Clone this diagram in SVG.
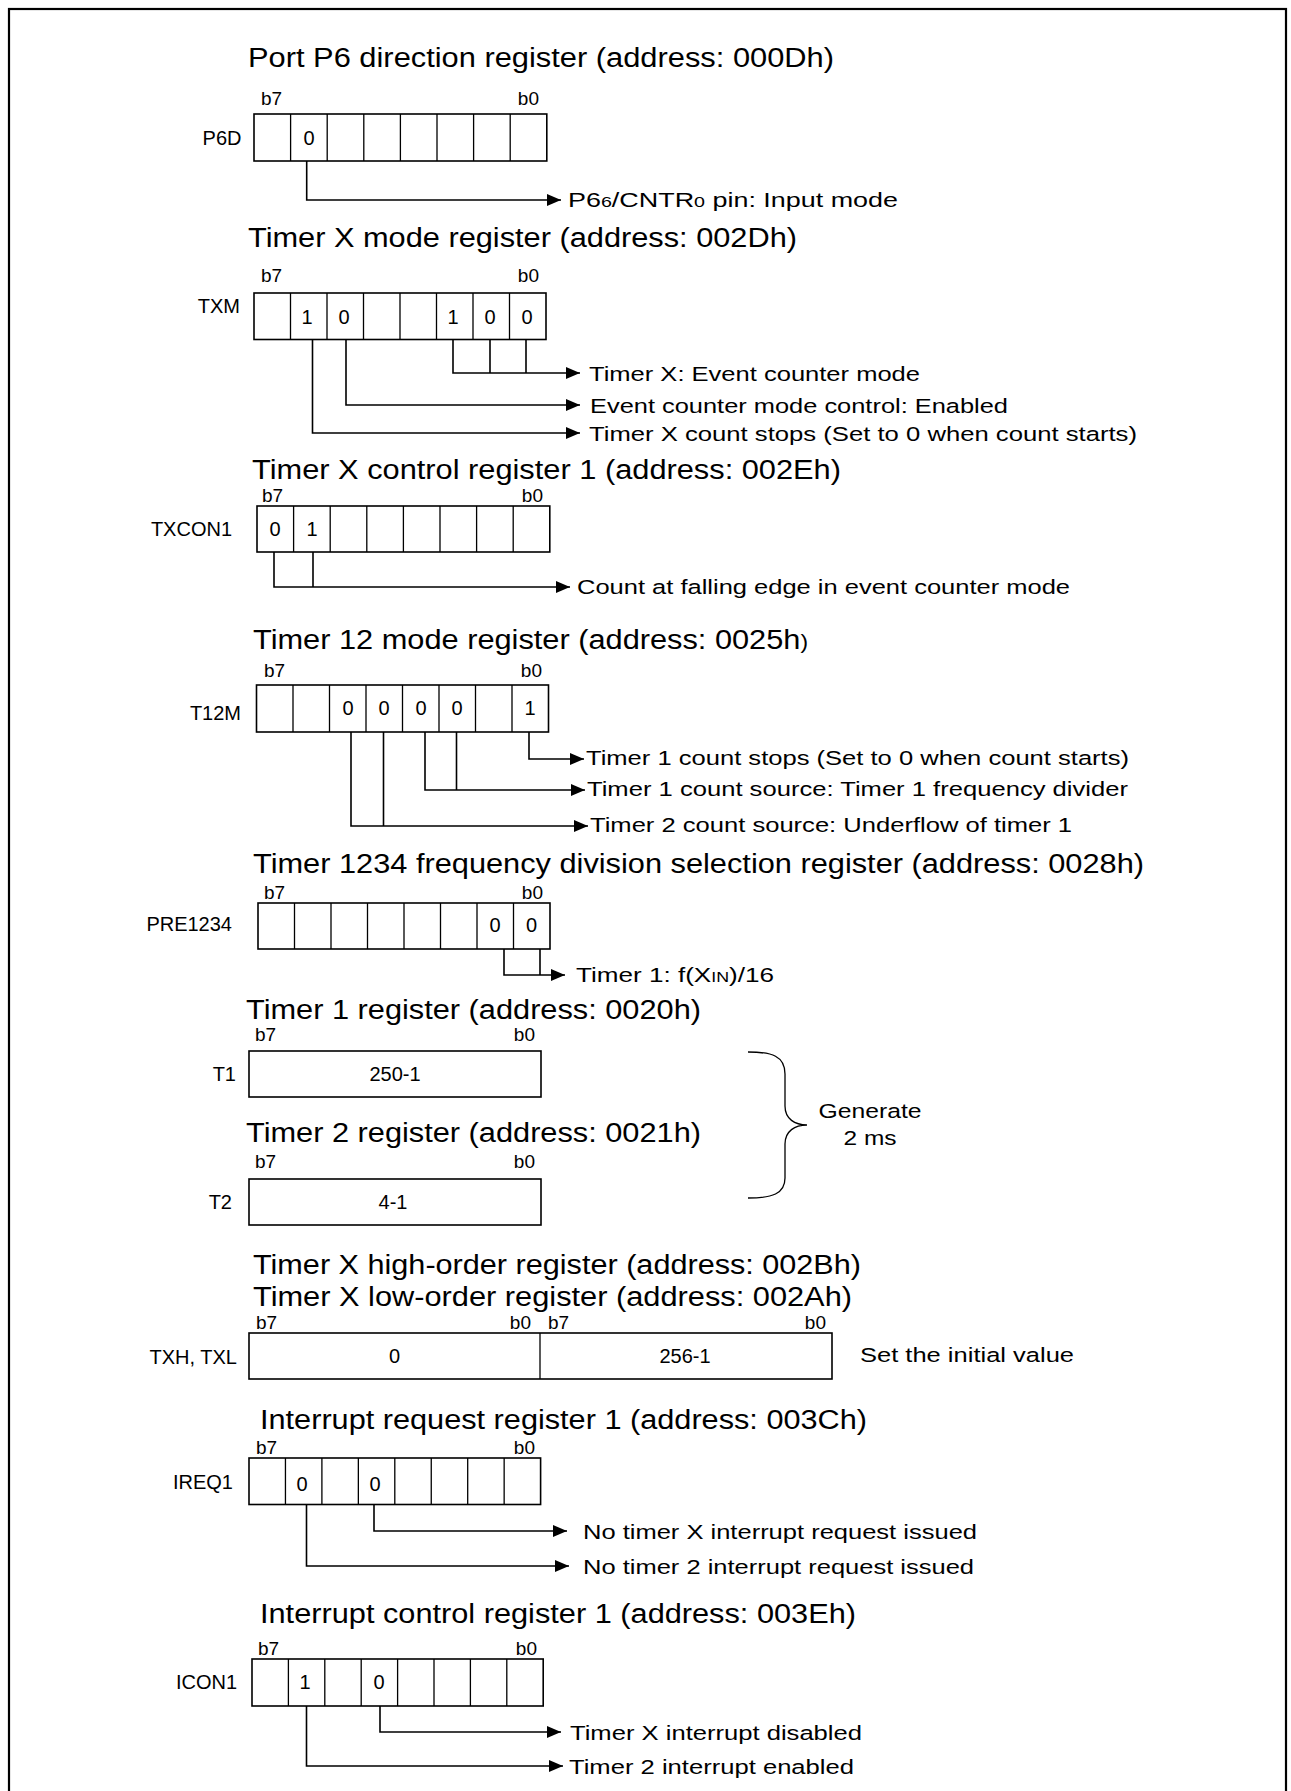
<svg xmlns="http://www.w3.org/2000/svg" width="1291" height="1791" viewBox="0 0 1291 1791">
<style>
text{font-family:"Liberation Sans",Arial,sans-serif;fill:#000}
.ti{font-size:27px}
.de{font-size:20.5px}
.lb{font-size:20px;text-anchor:end}
.bt{font-size:19px}
.be{font-size:19px;text-anchor:end}
.v{font-size:20px;text-anchor:middle}
.box{fill:#fff;stroke:#000;stroke-width:1.6}
.dv{fill:none;stroke:#000;stroke-width:1.3}
.con{fill:none;stroke:#000;stroke-width:1.6}
.br{fill:none;stroke:#000;stroke-width:1.3}
</style>
<defs>
<marker id="ar" markerUnits="userSpaceOnUse" markerWidth="15" markerHeight="13" refX="14" refY="6" orient="auto">
<path d="M0,0 L14,6 L0,12 z" fill="#000"/>
</marker>
</defs>
<rect x="0" y="0" width="1291" height="1791" fill="#fff"/>
<rect x="9" y="9" width="1277" height="1800" fill="none" stroke="#000" stroke-width="2.2"/>

<g id="p6d">
<text class="ti" x="248" y="67" textLength="586" lengthAdjust="spacingAndGlyphs">Port P6 direction register (address: 000Dh)</text>
<text class="bt" x="261" y="105">b7</text><text class="be" x="539" y="105">b0</text>
<text class="lb" x="241.5" y="145">P6D</text>
<rect class="box" x="254" y="114" width="292.8" height="47"/>
<path class="dv" d="M290.6,114V161M327.2,114V161M363.8,114V161M400.4,114V161M437,114V161M473.6,114V161M510.2,114V161"/>
<text class="v" x="309" y="145">0</text>
<text class="de" x="568" y="207" textLength="330" lengthAdjust="spacingAndGlyphs">P6<tspan font-size="15">6</tspan>/CNTR<tspan font-size="15">0</tspan> pin: Input mode</text>
</g>

<g id="txm">
<text class="ti" x="248" y="247" textLength="549" lengthAdjust="spacingAndGlyphs">Timer X mode register (address: 002Dh)</text>
<text class="bt" x="261" y="282">b7</text><text class="be" x="539" y="282">b0</text>
<text class="lb" x="240" y="313">TXM</text>
<rect class="box" x="254" y="293" width="292" height="46.5"/>
<path class="dv" d="M290.5,293V339.5M327,293V339.5M363.5,293V339.5M400,293V339.5M436.5,293V339.5M473,293V339.5M509.5,293V339.5"/>
<text class="v" x="307" y="324">1</text><text class="v" x="344" y="324">0</text><text class="v" x="453" y="324">1</text><text class="v" x="490" y="324">0</text><text class="v" x="527" y="324">0</text>
<text class="de" x="589" y="381" textLength="331" lengthAdjust="spacingAndGlyphs">Timer X: Event counter mode</text>
<text class="de" x="590" y="413" textLength="418" lengthAdjust="spacingAndGlyphs">Event counter mode control: Enabled</text>
<text class="de" x="589" y="441" textLength="548" lengthAdjust="spacingAndGlyphs">Timer X count stops (Set to 0 when count starts)</text>
</g>

<g id="txcon1">
<text class="ti" x="252" y="479" textLength="589" lengthAdjust="spacingAndGlyphs">Timer X control register 1 (address: 002Eh)</text>
<text class="bt" x="262" y="502">b7</text><text class="be" x="543" y="502">b0</text>
<text class="lb" x="232" y="536">TXCON1</text>
<rect class="box" x="257" y="506" width="292.8" height="46"/>
<path class="dv" d="M293.6,506V552M330.2,506V552M366.8,506V552M403.4,506V552M440,506V552M476.6,506V552M513.2,506V552"/>
<text class="v" x="275" y="536">0</text><text class="v" x="312" y="536">1</text>
<text class="de" x="577" y="594" textLength="493" lengthAdjust="spacingAndGlyphs">Count at falling edge in event counter mode</text>
</g>

<g id="t12m">
<text class="ti" x="253" y="649" textLength="555" lengthAdjust="spacingAndGlyphs">Timer 12 mode register (address: 0025h<tspan font-size="20">)</tspan></text>
<text class="bt" x="264" y="677">b7</text><text class="be" x="542" y="677">b0</text>
<text class="lb" x="241" y="720">T12M</text>
<rect class="box" x="256.5" y="685" width="292" height="47"/>
<path class="dv" d="M293,685V732M329.5,685V732M366,685V732M402.5,685V732M439,685V732M475.5,685V732M512,685V732"/>
<text class="v" x="348" y="715">0</text><text class="v" x="384" y="715">0</text><text class="v" x="421" y="715">0</text><text class="v" x="457" y="715">0</text><text class="v" x="530" y="715">1</text>
<text class="de" x="586" y="765" textLength="543" lengthAdjust="spacingAndGlyphs">Timer 1 count stops (Set to 0 when count starts)</text>
<text class="de" x="587" y="796" textLength="541" lengthAdjust="spacingAndGlyphs">Timer 1 count source: Timer 1 frequency divider</text>
<text class="de" x="590" y="832" textLength="482" lengthAdjust="spacingAndGlyphs">Timer 2 count source: Underflow of timer 1</text>
</g>

<g id="pre1234">
<text class="ti" x="253" y="873" textLength="891" lengthAdjust="spacingAndGlyphs">Timer 1234 frequency division selection register (address: 0028h)</text>
<text class="bt" x="264" y="899">b7</text><text class="be" x="543" y="899">b0</text>
<text class="lb" x="232" y="931">PRE1234</text>
<rect class="box" x="258" y="903" width="292" height="46"/>
<path class="dv" d="M294.5,903V949M331,903V949M367.5,903V949M404,903V949M440.5,903V949M477,903V949M513.5,903V949"/>
<text class="v" x="495" y="932">0</text><text class="v" x="531.5" y="932">0</text>
<text class="de" x="576" y="982" textLength="198" lengthAdjust="spacingAndGlyphs">Timer 1: f(X<tspan font-size="14">IN</tspan>)/16</text>
</g>

<g id="t1">
<text class="ti" x="246" y="1019" textLength="455" lengthAdjust="spacingAndGlyphs">Timer 1 register (address: 0020h)</text>
<text class="bt" x="255" y="1041">b7</text><text class="be" x="535" y="1041">b0</text>
<text class="lb" x="236" y="1081">T1</text>
<rect class="box" x="249" y="1051" width="292" height="46"/>
<text class="v" x="395" y="1081">250-1</text>
</g>

<g id="t2">
<text class="ti" x="246" y="1142" textLength="455" lengthAdjust="spacingAndGlyphs">Timer 2 register (address: 0021h)</text>
<text class="bt" x="255" y="1168">b7</text><text class="be" x="535" y="1168">b0</text>
<text class="lb" x="232" y="1209">T2</text>
<rect class="box" x="249" y="1179" width="292" height="46"/>
<text class="v" x="393" y="1209">4-1</text>
</g>

<g id="brace">
<path class="br" d="M748,1052 C772,1052 785,1056 785,1074 L785,1106 C785,1119 795,1125 807,1125 C795,1125 785,1131 785,1144 L785,1178 C785,1194 772,1198 748,1198"/>
<text class="de" x="870" y="1118" text-anchor="middle" textLength="103" lengthAdjust="spacingAndGlyphs">Generate</text>
<text class="de" x="870" y="1145" text-anchor="middle" textLength="53" lengthAdjust="spacingAndGlyphs">2 ms</text>
</g>

<g id="txh-txl">
<text class="ti" x="253" y="1274" textLength="608" lengthAdjust="spacingAndGlyphs">Timer X high-order register (address: 002Bh)</text>
<text class="ti" x="253" y="1306" textLength="599" lengthAdjust="spacingAndGlyphs">Timer X low-order register (address: 002Ah)</text>
<text class="bt" x="256" y="1329">b7</text><text class="be" x="531" y="1329">b0</text>
<text class="bt" x="548" y="1329">b7</text><text class="be" x="826" y="1329">b0</text>
<text class="lb" x="237" y="1364">TXH, TXL</text>
<rect class="box" x="249" y="1333" width="583" height="46"/>
<path class="dv" d="M540,1333V1379"/>
<text class="v" x="394.5" y="1363">0</text><text class="v" x="685" y="1363">256-1</text>
<text class="de" x="860" y="1362" textLength="214" lengthAdjust="spacingAndGlyphs">Set the initial value</text>
</g>

<g id="ireq1">
<text class="ti" x="260" y="1429" textLength="607" lengthAdjust="spacingAndGlyphs">Interrupt request register 1 (address: 003Ch)</text>
<text class="bt" x="256" y="1454">b7</text><text class="be" x="535" y="1454">b0</text>
<text class="lb" x="233" y="1489">IREQ1</text>
<rect class="box" x="249" y="1458" width="291.6" height="46.5"/>
<path class="dv" d="M285.45,1458V1504.5M321.9,1458V1504.5M358.35,1458V1504.5M394.8,1458V1504.5M431.25,1458V1504.5M467.7,1458V1504.5M504.15,1458V1504.5"/>
<text class="v" x="302" y="1491">0</text><text class="v" x="375" y="1491">0</text>
<text class="de" x="583" y="1539" textLength="394" lengthAdjust="spacingAndGlyphs">No timer X interrupt request issued</text>
<text class="de" x="583" y="1574" textLength="391" lengthAdjust="spacingAndGlyphs">No timer 2 interrupt request issued</text>
</g>

<g id="icon1">
<text class="ti" x="260" y="1623" textLength="596" lengthAdjust="spacingAndGlyphs">Interrupt control register 1 (address: 003Eh)</text>
<text class="bt" x="258" y="1655">b7</text><text class="be" x="537" y="1655">b0</text>
<text class="lb" x="237" y="1689">ICON1</text>
<rect class="box" x="252" y="1659" width="291.2" height="47"/>
<path class="dv" d="M288.4,1659V1706M324.8,1659V1706M361.2,1659V1706M397.6,1659V1706M434,1659V1706M470.4,1659V1706M506.8,1659V1706"/>
<text class="v" x="305" y="1689">1</text><text class="v" x="379" y="1689">0</text>
<text class="de" x="570" y="1739.5" textLength="292" lengthAdjust="spacingAndGlyphs">Timer X interrupt disabled</text>
<text class="de" x="569" y="1774" textLength="285" lengthAdjust="spacingAndGlyphs">Timer 2 interrupt enabled</text>
</g>

<g id="connectors">
<path class="con" d="M306.7,161V200H561" marker-end="url(#ar)"/>
<path class="con" d="M490,339.5V373M526,339.5V373M453,339.5V373H580" marker-end="url(#ar)"/>
<path class="con" d="M346,339.5V405H580" marker-end="url(#ar)"/>
<path class="con" d="M312.5,339.5V433H580" marker-end="url(#ar)"/>
<path class="con" d="M313,552V587M274,552V587H570" marker-end="url(#ar)"/>
<path class="con" d="M529,732V759H584" marker-end="url(#ar)"/>
<path class="con" d="M456.5,732V790M425,732V790H585" marker-end="url(#ar)"/>
<path class="con" d="M383.5,732V826M351,732V826H588" marker-end="url(#ar)"/>
<path class="con" d="M540,949V975M504,949V975H565" marker-end="url(#ar)"/>
<path class="con" d="M374,1504.5V1531H567" marker-end="url(#ar)"/>
<path class="con" d="M306.5,1504.5V1566H569" marker-end="url(#ar)"/>
<path class="con" d="M380,1706V1732H561" marker-end="url(#ar)"/>
<path class="con" d="M306.5,1706V1766H563" marker-end="url(#ar)"/>
</g>
</svg>
